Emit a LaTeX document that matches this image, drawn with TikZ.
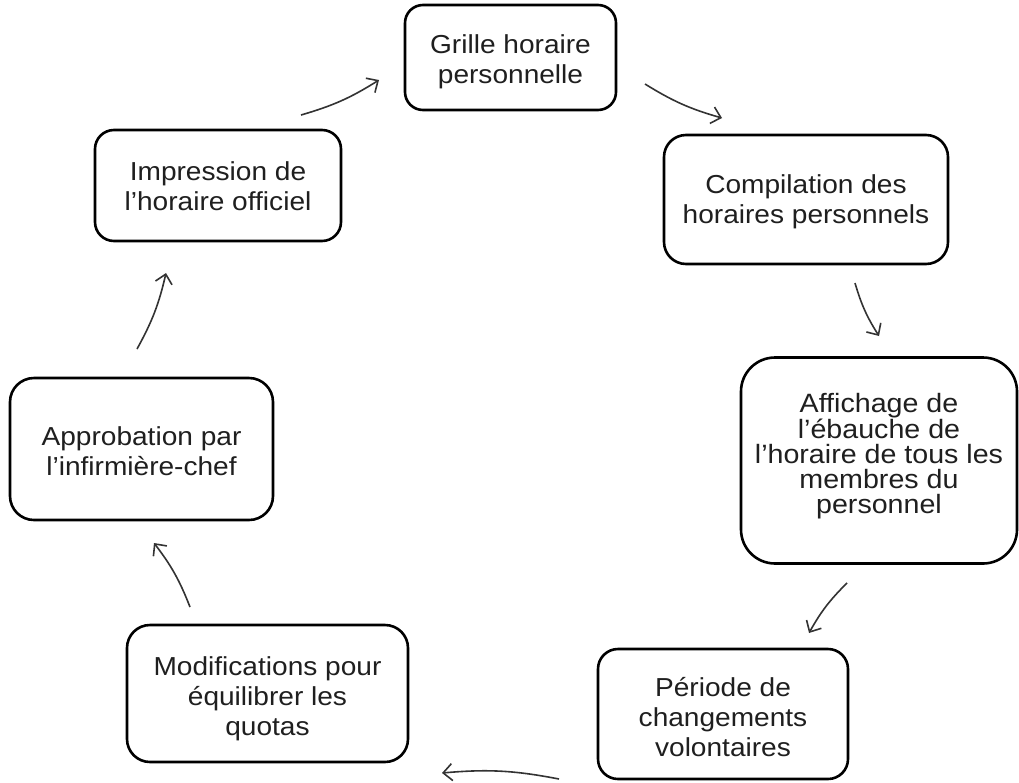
\documentclass[tikz,border=0pt]{standalone}
\usepackage{fontspec}
\setmainfont[FakeStretch=1.08]{Liberation Sans}
\usetikzlibrary{arrows.meta}
\begin{document}
\begin{tikzpicture}[x=1pt,y=-1pt,
  stage/.style={draw=black, line width=2.6pt, rounded corners=#1, inner sep=0pt},
  txt/.style={align=center, inner sep=0pt, text=black!88,
    font=\fontsize{26}{30}\selectfont},
  flow/.style={draw=black!80, line width=1.6pt,
    -{Straight Barb[length=9pt,width=17pt,line width=1.6pt]}, bend right=8},
]
\fill[white] (0,0) rectangle (1019,782);
\useasboundingbox (0,0) rectangle (1019,782);

\node[stage=18, minimum width=211pt, minimum height=105pt] (n1) at (510.5,57.5) {};
\node[txt] (t1) at ([yshift=-4pt]n1.center) {Grille horaire\\personnelle};

\node[stage=22, minimum width=284pt, minimum height=129pt] (n2) at (806,199.5) {};
\node[txt] (t2) at ([yshift=-2pt]n2.center) {Compilation des\\horaires personnels};

\node[stage=34, minimum width=276pt, minimum height=206pt] (n3) at (879,460.5) {};
\node[txt, font=\fontsize{26.5}{25}\selectfont] (t3) at ([yshift=4pt]n3.center)
  {Affichage de\\l’ébauche de\\l’horaire de tous les\\membres du\\personnel};

\node[stage=20, minimum width=250pt, minimum height=130pt] (n4) at (723,714) {};
\node[txt] (t4) at ([yshift=-3pt]n4.center) {Période de\\changements\\volontaires};

\node[stage=23, minimum width=281pt, minimum height=137pt] (n5) at (267.5,693.5) {};
\node[txt] (t5) at ([yshift=-5pt]n5.center) {Modifications pour\\équilibrer les\\quotas};

\node[stage=24, minimum width=263pt, minimum height=142pt] (n6) at (141.5,449) {};
\node[txt] (t6) at ([yshift=-2pt]n6.center) {Approbation par\\l’infirmière-chef};

\node[stage=19, minimum width=246pt, minimum height=111pt] (n7) at (218,185.5) {};
\node[txt] (t7) at ([yshift=-1pt]n7.center) {Impression de\\l’horaire officiel};

\coordinate (a1s) at (301,115);  \coordinate (a1e) at (379,80);
\coordinate (a2s) at (645,84);   \coordinate (a2e) at (722,118);
\coordinate (a3s) at (855,283);  \coordinate (a3e) at (879,336);
\coordinate (a4s) at (847,583);  \coordinate (a4e) at (809,633);
\coordinate (a5s) at (559,779);  \coordinate (a5e) at (442,773);
\coordinate (a6s) at (190,607);  \coordinate (a6e) at (154,543);
\coordinate (a7s) at (137,349);  \coordinate (a7e) at (166,273);

\draw[flow] (a1s) to (a1e);
\draw[flow] (a2s) to (a2e);
\draw[flow] (a3s) to (a3e);
\draw[flow] (a4s) to (a4e);
\draw[flow] (a5s) to (a5e);
\draw[flow] (a6s) to (a6e);
\draw[flow] (a7s) to (a7e);
\end{tikzpicture}
\end{document}
